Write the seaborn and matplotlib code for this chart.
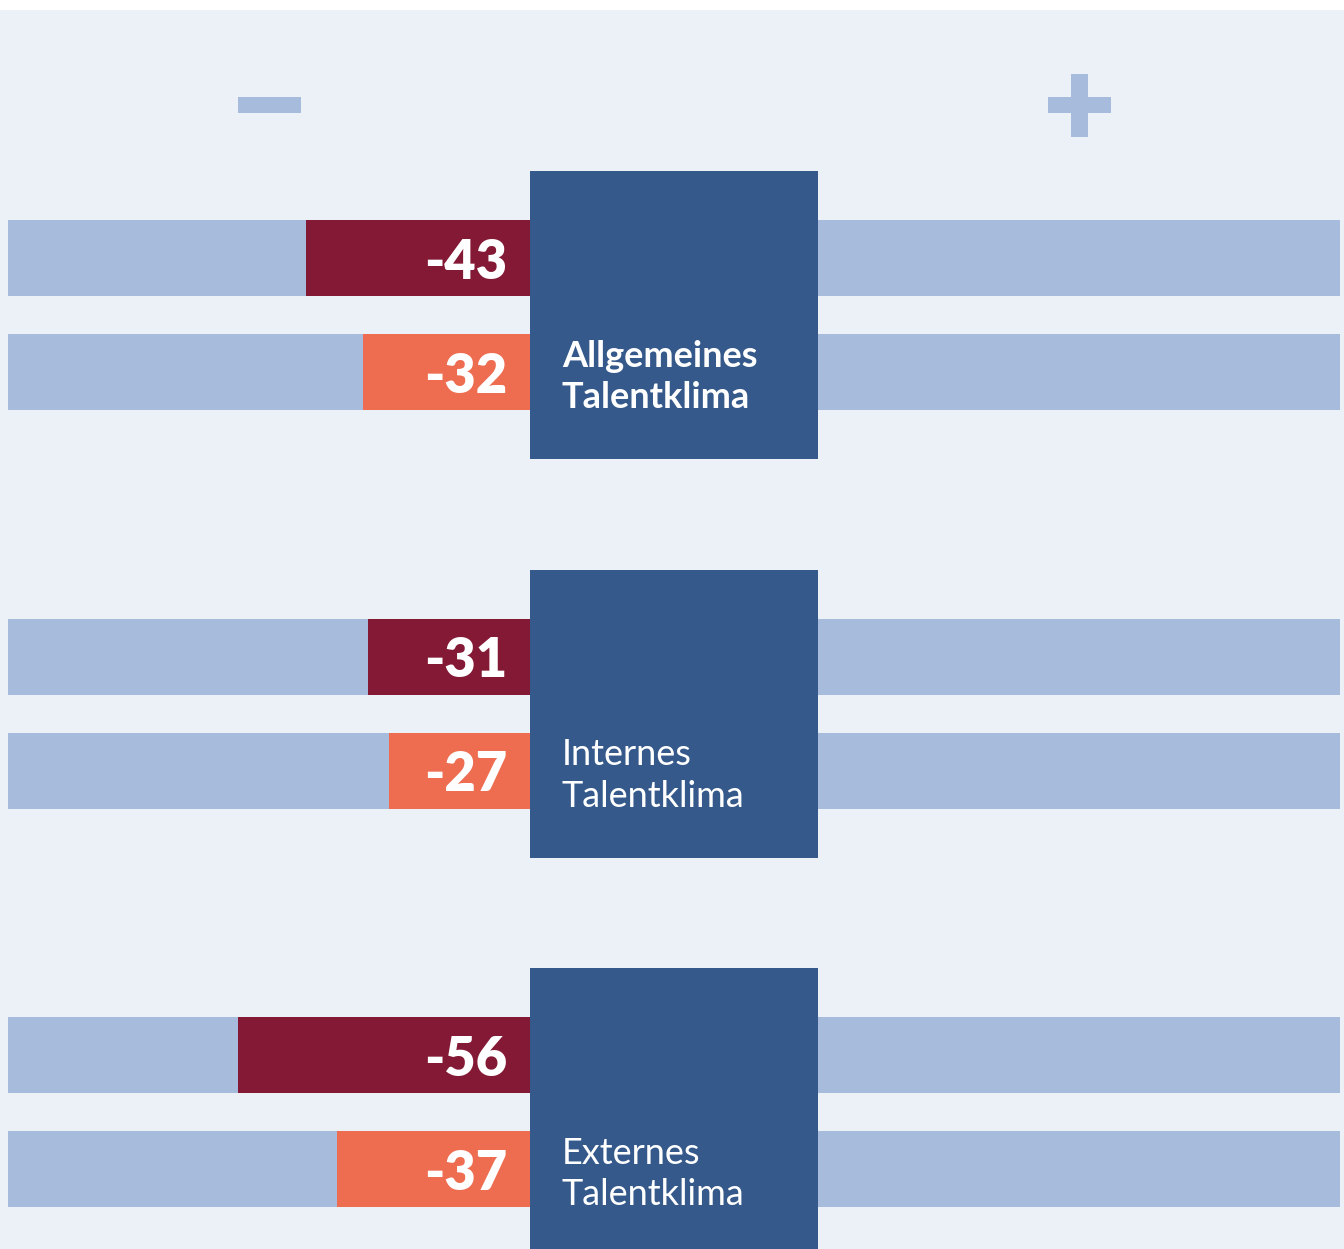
import matplotlib
matplotlib.use("Agg")
import matplotlib.pyplot as plt
import matplotlib.patches as mpatches
import pandas as pd
import seaborn as sns

# data
groups = ["Allgemeines\nTalentklima", "Internes\nTalentklima", "Externes\nTalentklima"]
group_bold = [True, False, False]
series_names = ["A", "B"]
values_a = [-43, -31, -56]   # dark red bars
values_b = [-32, -27, -37]   # orange bars

# colours
bg = "#ECF1F8"
track = "#A7BBDC"
dark_red = "#841935"
orange = "#EE6C50"
box_blue = "#34598A"

# layout (x in value units, y in pixels from top)
px = 5.22            # pixels per value unit
box_left_px = 530
box_w = 288 / px
track_len = 100
group_top0 = 171
group_step = 398.5
box_h = 288
row_off = [87, 201]
bar_h = 76

sns.set_theme(style="white")
plt.rcParams["font.family"] = ["Lato", "DejaVu Sans"]

fig = plt.figure(figsize=(13.44, 12.49), dpi=100, facecolor="white")
ax = fig.add_axes([0, 0, 1, 1239 / 1249])
ax.set_facecolor(bg)
ax.set_xlim(-box_left_px / px, (1344 - box_left_px) / px)

tops = [group_top0 + i * group_step for i in range(len(groups))]

rows = []
for i in range(len(groups)):
    rows.append({"y": tops[i] + row_off[0], "value": values_a[i], "series": series_names[0]})
    rows.append({"y": tops[i] + row_off[1], "value": values_b[i], "series": series_names[1]})
df = pd.DataFrame(rows)

# grey-blue tracks on both sides
ax.barh(df["y"], -track_len, left=0, height=bar_h, color=track, linewidth=0, zorder=1)
ax.barh(df["y"], track_len, left=box_w, height=bar_h, color=track, linewidth=0, zorder=1)

# value bars
sns.barplot(data=df, x="value", y="y", hue="series", orient="h", native_scale=True,
            palette={series_names[0]: dark_red, series_names[1]: orange},
            saturation=1, dodge=False, errorbar=None, legend=False, linewidth=0,
            width=bar_h / (row_off[1] - row_off[0]), ax=ax, zorder=2)

for _, r in df.iterrows():
    ax.text(-4.4, r["y"], f"{r['value']:d}", ha="right", va="center_baseline",
            color="white", fontsize=39, fontweight="heavy", zorder=5)

# centre boxes with labels
ax.bar([0] * len(tops), box_h, bottom=tops, width=box_w, align="edge",
       color=box_blue, linewidth=0, zorder=3)
for t, name, b in zip(tops, groups, group_bold):
    ax.text(32 / px, t + 206, name, ha="left", va="center", color="white",
            fontsize=26, fontweight="bold" if b else "normal",
            linespacing=1.3, zorder=5)

# minus / plus signs above the tracks
sym_len, sym_th, sym_y = 63 / px, 16, 105
ax.add_patch(mpatches.Rectangle((-track_len / 2 - sym_len / 2, sym_y - sym_th / 2), sym_len, sym_th,
                                color=track, linewidth=0))
cx = box_w + track_len / 2
ax.add_patch(mpatches.Rectangle((cx - sym_len / 2, sym_y - sym_th / 2), sym_len, sym_th,
                                color=track, linewidth=0))
ax.add_patch(mpatches.Rectangle((cx - 8.5 / px, sym_y - 31.5), 17 / px, 63,
                                color=track, linewidth=0))

ax.set_ylim(1249, 10)
ax.set_xlabel("")
ax.set_ylabel("")
ax.set_xticks([])
ax.set_yticks([])
sns.despine(ax=ax, left=True, bottom=True)
fig.savefig("out.png", dpi=100, facecolor="white")
